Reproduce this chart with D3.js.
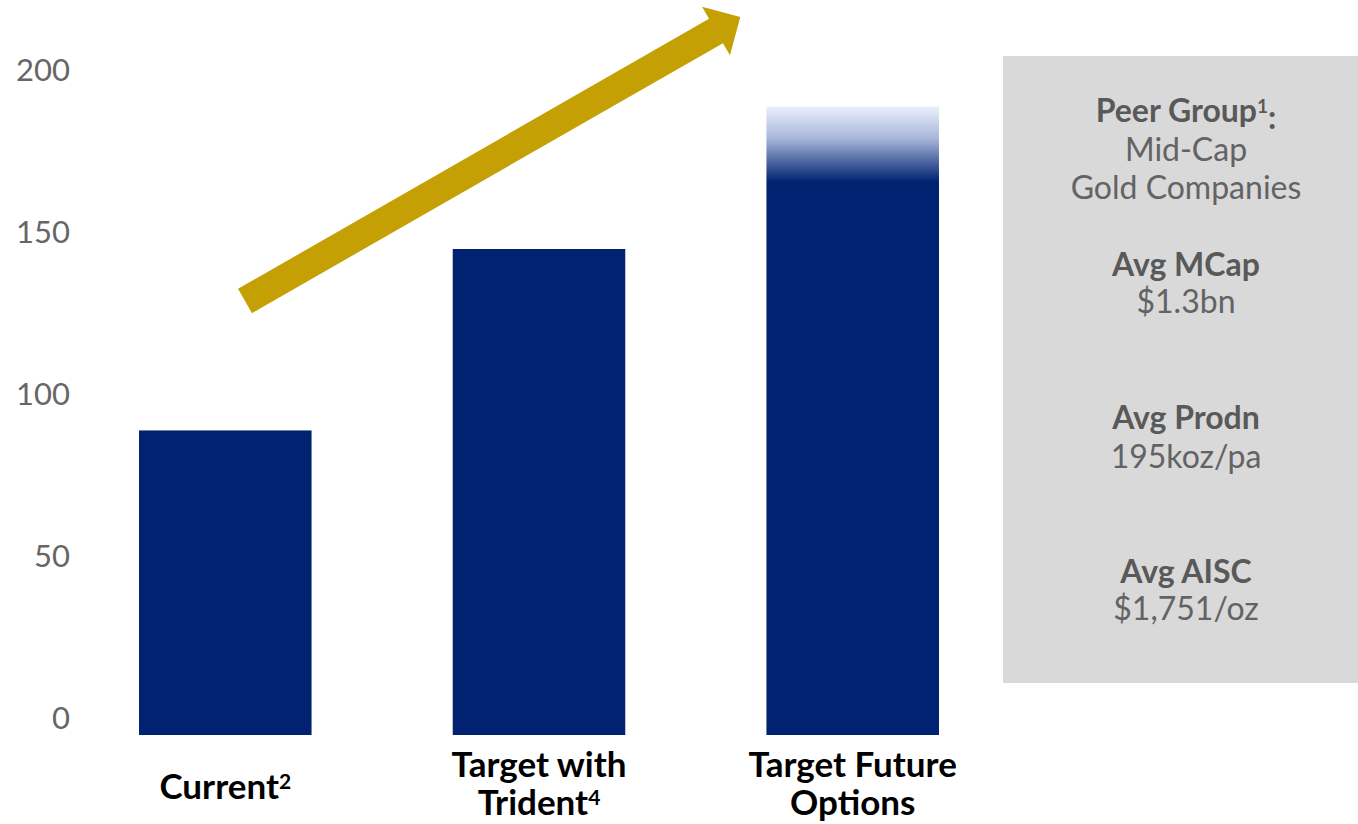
<!DOCTYPE html>
<html>
<head>
<meta charset="utf-8">
<script src="https://cdn.jsdelivr.net/npm/d3@7"></script>
<style>
  html, body { margin: 0; padding: 0; background: #fff; }
  svg { display: block; }
</style>
</head>
<body>
<svg id="chart"></svg>
<script>
// bar data (koz/pa)
const categories = ["Current", "Target with Trident", "Target Future Options"]
const production = [94, 150, 194]
const yTicks = [0, 50, 100, 150, 200]

// category labels split into lines, with footnote superscripts
const categoryLines = [
  [{ text: "Current", sup: "2" }],
  [{ text: "Target with", sup: "" }, { text: "Trident", sup: "4" }],
  [{ text: "Target Future", sup: "" }, { text: "Options", sup: "" }]
]

// peer group side panel
const peerLines = [
  { text: "Peer Group", sup: "1", tail: ":", bold: true, y: 122 },
  { text: "Mid-Cap", bold: false, y: 161 },
  { text: "Gold Companies", bold: false, y: 199 },
  { text: "Avg MCap", bold: true, y: 276 },
  { text: "$1.3bn", bold: false, y: 313 },
  { text: "Avg Prodn", bold: true, y: 429 },
  { text: "195koz/pa", bold: false, y: 468 },
  { text: "Avg AISC", bold: true, y: 583 },
  { text: "$1,751/oz", bold: false, y: 620 }
]

const W = 1358, H = 824
const navy = "#002270"
const gold = "#c4a005"
const font = "Lato, 'Open Sans', sans-serif"

const svg = d3.select("#chart").attr("width", W).attr("height", H)

const x = d3.scaleBand()
  .domain(categories)
  .range([70, 1008])
  .paddingInner(0.45)
  .paddingOuter(0.22)

const y = d3.scaleLinear()
  .domain([0, 200])
  .range([735, 87])

// gradient fade on the last bar
const defs = svg.append("defs")
const grad = defs.append("linearGradient")
  .attr("id", "fade")
  .attr("x1", 0).attr("y1", 0).attr("x2", 0).attr("y2", 1)
grad.append("stop").attr("offset", 0).attr("stop-color", "#ebf0fb")
grad.append("stop").attr("offset", 0.05).attr("stop-color", "#a9b7db")
grad.append("stop").attr("offset", 0.12).attr("stop-color", navy)
grad.append("stop").attr("offset", 1).attr("stop-color", navy)

// y axis labels only (no line, no ticks)
const yAxis = svg.append("g")
  .attr("transform", "translate(70,0)")
  .call(d3.axisLeft(y).tickValues(yTicks).tickSize(0).tickPadding(0))
yAxis.select(".domain").remove()
yAxis.selectAll("text")
  .attr("dy", "-0.2em")
  .style("font-family", font)
  .style("font-size", "31px")
  .style("fill", "#666")

// bars
svg.append("g")
  .selectAll("rect")
  .data(categories)
  .join("rect")
  .attr("x", d => x(d))
  .attr("width", x.bandwidth())
  .attr("y", (d, i) => y(production[i]))
  .attr("height", (d, i) => y(0) - y(production[i]))
  .attr("fill", (d, i) => i === categories.length - 1 ? "url(#fade)" : navy)

// category labels
const catG = svg.append("g")
categories.forEach((c, i) => {
  const lines = categoryLines[i]
  const cx = x(c) + x.bandwidth() / 2
  const baseY = lines.length === 1 ? 799 : 777
  lines.forEach((ln, j) => {
    const t = catG.append("text")
      .attr("x", cx)
      .attr("y", baseY + j * 38)
      .attr("text-anchor", "middle")
      .style("font-family", font)
      .style("font-weight", "bold")
      .style("font-size", "35px")
      .style("fill", "#000")
    t.append("tspan").text(ln.text)
    if (ln.sup) {
      t.append("tspan")
        .attr("dy", "-0.5em")
        .style("font-size", "21px")
        .text(ln.sup)
    }
  })
})

// rising arrow annotation
const arrow = { x0: 245, y0: 301, x1: 716, y1: 31, shaft: 28, head: 56, headLen: 28 }
{
  const dx = arrow.x1 - arrow.x0, dy = arrow.y1 - arrow.y0
  const len = Math.hypot(dx, dy)
  const ux = dx / len, uy = dy / len
  const nx = -uy, ny = ux
  const s = arrow.shaft / 2, h = arrow.head / 2
  const pts = [
    [arrow.x0 + nx * s, arrow.y0 + ny * s],
    [arrow.x1 + nx * s, arrow.y1 + ny * s],
    [arrow.x1 + nx * h, arrow.y1 + ny * h],
    [arrow.x1 + ux * arrow.headLen, arrow.y1 + uy * arrow.headLen],
    [arrow.x1 - nx * h, arrow.y1 - ny * h],
    [arrow.x1 - nx * s, arrow.y1 - ny * s],
    [arrow.x0 - nx * s, arrow.y0 - ny * s]
  ]
  svg.append("polygon")
    .attr("points", pts.map(p => p.join(",")).join(" "))
    .attr("fill", gold)
}

// peer group panel
const panel = svg.append("g")
panel.append("rect")
  .attr("x", 1003).attr("y", 56)
  .attr("width", W - 1003).attr("height", 627)
  .attr("fill", "#d9d9d9")

peerLines.forEach(ln => {
  const t = panel.append("text")
    .attr("x", 1186)
    .attr("y", ln.y)
    .attr("text-anchor", "middle")
    .style("font-family", font)
    .style("font-weight", ln.bold ? "bold" : "normal")
    .style("font-size", "32px")
    .style("fill", ln.bold ? "#595959" : "#636363")
  t.append("tspan").text(ln.text)
  if (ln.sup) {
    t.append("tspan").attr("dy", "-0.5em").style("font-size", "19px").text(ln.sup)
    t.append("tspan").attr("dy", "0.5em").text(ln.tail)
  }
})
</script>
</body>
</html>
